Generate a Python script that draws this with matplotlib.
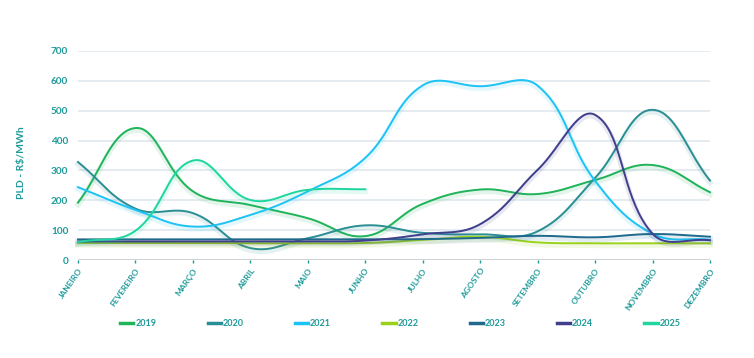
import numpy as np
import matplotlib
matplotlib.use("Agg")
import matplotlib.pyplot as plt
import matplotlib.patheffects as pe

plt.rcParams['font.family'] = ['Lato', 'DejaVu Sans']

meses = ["JANEIRO", "FEVEREIRO", "MARÇO", "ABRIL", "MAIO", "JUNHO", "JULHO",
         "AGOSTO", "SETEMBRO", "OUTUBRO", "NOVEMBRO", "DEZEMBRO"]

pld_2019 = [192, 442, 230, 184, 140, 80, 188, 236, 221, 268, 318, 227]
pld_2020 = [328, 172, 157, 40, 73, 116, 91, 86, 96, 275, 503, 266]
pld_2021 = [244, 168, 112, 151, 230, 342, 585, 582, 584, 265, 88, 68]
pld_2022 = [57, 57, 57, 56, 56, 57, 67, 78, 59, 56, 56, 56]
pld_2023 = [69, 69, 69, 69, 69, 69, 70, 74, 81, 76, 87, 78]
pld_2024 = [62, 62, 62, 62, 62, 65, 86, 120, 302, 486, 88, 66]
pld_2025 = [60, 98, 333, 201, 235, 237]

series = [
    ("2019", pld_2019, "#1fb35a"),
    ("2020", pld_2020, "#2a8f94"),
    ("2021", pld_2021, "#1ec3f5"),
    ("2022", pld_2022, "#9ad21b"),
    ("2023", pld_2023, "#1f6a8c"),
    ("2024", pld_2024, "#3f3f8c"),
    ("2025", pld_2025, "#1fd6a0"),
]

TEAL = "#1e9a9a"
SX, SY = 57.45, 0.2986   # px por mes / px por R$ (so para a suavizacao)


def spline(y, tension=0.4, n=40):
    # curva suave estilo chart.js, calculada no espaco de pixels
    y = np.asarray(y, float)
    k = len(y)
    P = np.column_stack([np.arange(k) * SX, y * SY])
    cp_prev = P.copy()
    cp_next = P.copy()
    for i in range(k):
        a = P[i - 1] if i > 0 else P[i]
        b = P[i]
        c = P[i + 1] if i < k - 1 else P[i]
        d01 = np.hypot(*(b - a))
        d12 = np.hypot(*(c - b))
        s01 = d01 / (d01 + d12) if d01 + d12 else 0
        s12 = d12 / (d01 + d12) if d01 + d12 else 0
        cp_prev[i] = b - tension * s01 * (c - a)
        cp_next[i] = b + tension * s12 * (c - a)
    t = np.linspace(0, 1, n)[:, None]
    out = []
    for i in range(k - 1):
        p0, p1, p2, p3 = P[i], cp_next[i], cp_prev[i + 1], P[i + 1]
        out.append((1 - t) ** 3 * p0 + 3 * (1 - t) ** 2 * t * p1
                   + 3 * (1 - t) * t ** 2 * p2 + t ** 3 * p3)
    out = np.vstack(out)
    return out[:, 0] / SX, out[:, 1] / SY


fig = plt.figure(figsize=(7.54, 3.58), dpi=100)
ax = fig.add_axes([78 / 754, 1 - 260 / 358, (710 - 78) / 754, (260 - 51) / 358])

for nome, vals, cor in series:
    xs, ys = spline(vals)
    ax.plot(xs, ys, color=cor, lw=1.4, label=nome, clip_on=False, zorder=3,
            path_effects=[pe.SimpleLineShadow(offset=(0, -1.5), shadow_color=cor,
                                              alpha=0.12, linewidth=4),
                          pe.Normal()])

ax.set_xlim(0, 11)
ax.set_ylim(0, 700)
ax.set_yticks(range(0, 701, 100))
for v in range(100, 701, 100):
    ax.axhline(v, color="#e2ebf0", lw=1.3, zorder=1)
ax.axhline(0, color="#c9ced3", lw=2, zorder=2)

for s in ax.spines.values():
    s.set_visible(False)

ax.set_xticks(range(12))
ax.set_xticklabels(meses, rotation=55, ha="right", va="top",
                   rotation_mode="anchor", fontsize=6, fontweight="bold",
                   color=TEAL)
ax.tick_params(axis="x", length=2, width=1, color=TEAL, pad=3)
ax.tick_params(axis="y", length=0, pad=7, labelsize=7.2, labelcolor=TEAL)
for lab in ax.get_yticklabels():
    lab.set_fontweight("bold")

fig.text(22 / 754, 1 - 163 / 358, "PLD - R$/MWh", rotation=90, ha="center",
         va="center", fontsize=7.5, color=TEAL, fontweight="bold")

leg = fig.legend(loc="center", bbox_to_anchor=(0.531, 1 - 324 / 358), ncol=7,
                 frameon=False, fontsize=6.5, handlelength=1.45,
                 handletextpad=0.2, columnspacing=5.7)
for txt in leg.get_texts():
    txt.set_color(TEAL)
    txt.set_fontweight("bold")
for h in leg.get_lines():
    h.set_linewidth(2.5)
    h.set_path_effects([])

fig.savefig("out.png", dpi=100)
